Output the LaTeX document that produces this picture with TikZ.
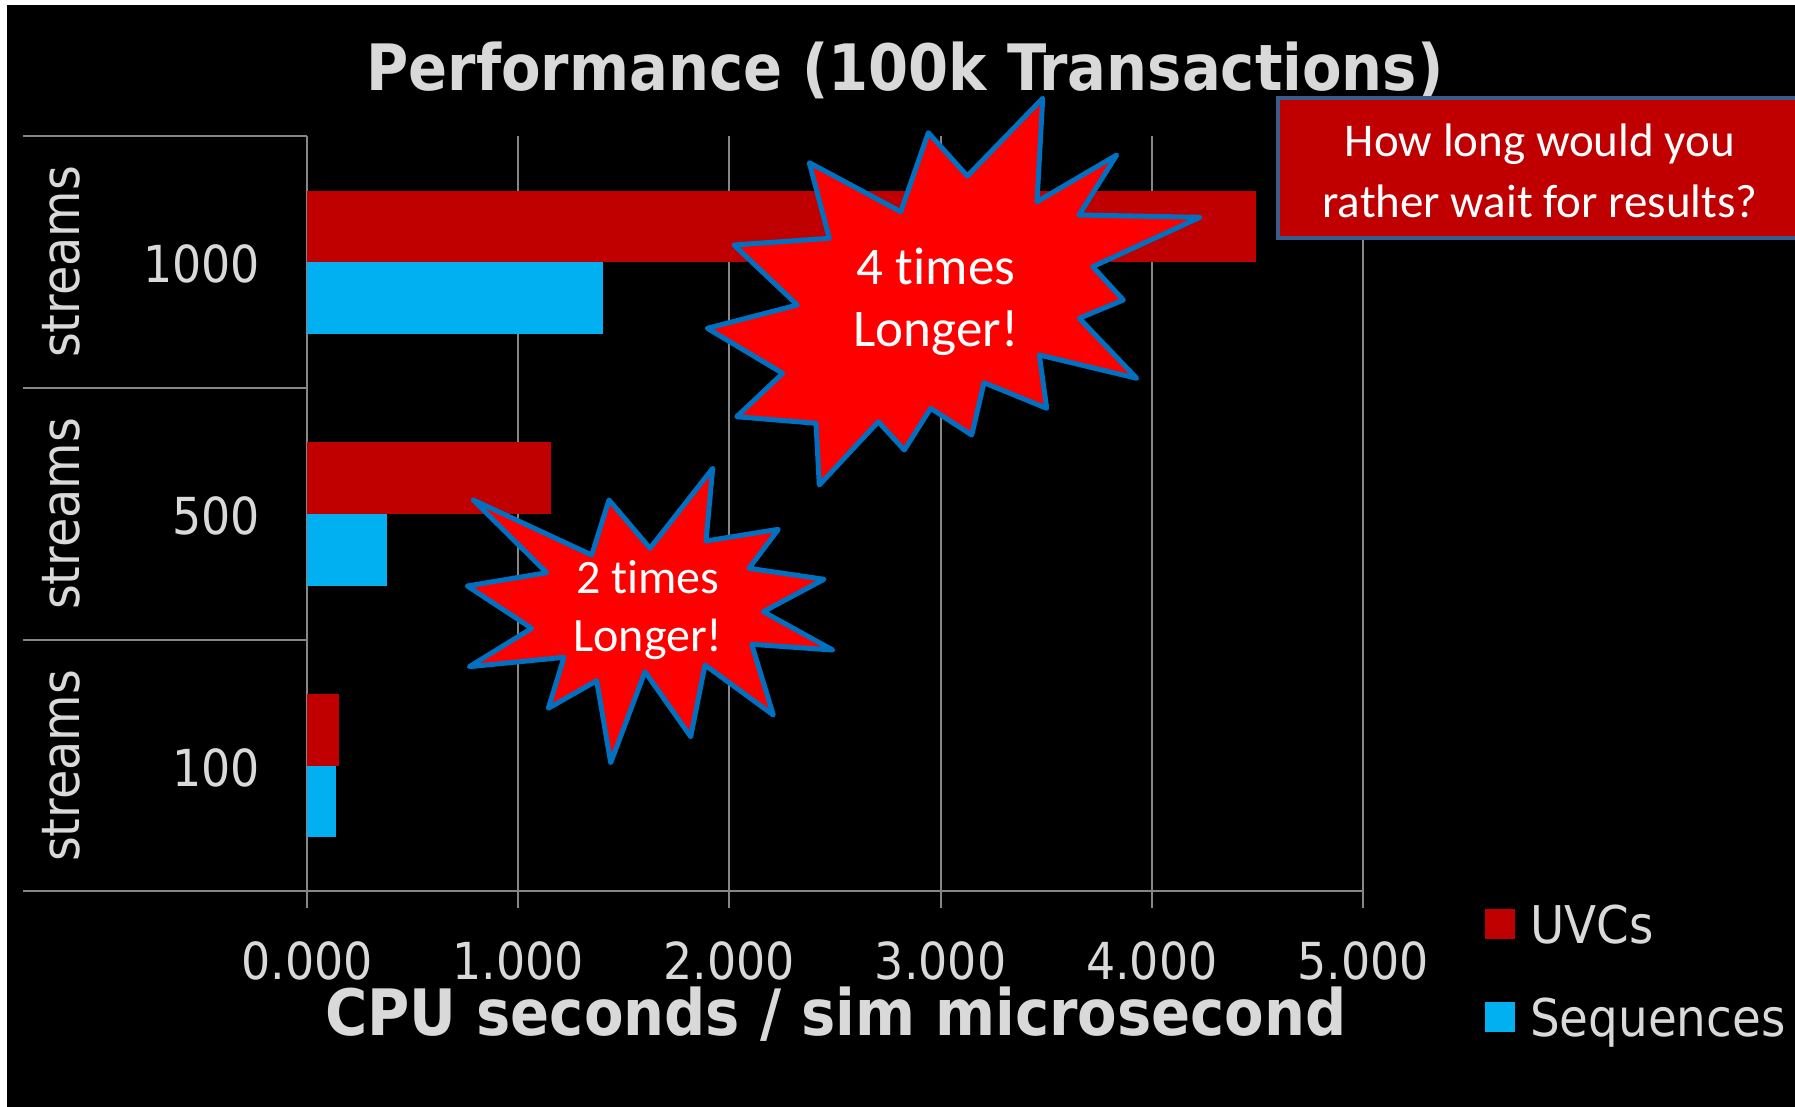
\documentclass[tikz,border=0pt]{standalone}
\usepackage{fontspec}
\newfontfamily\tahfont{DejaVu Sans Condensed}
\newfontfamily\tahbfont{DejaVu Sans Condensed Bold}
\newfontfamily\calfont{Carlito}[Ligatures={NoCommon}]
\definecolor{barred}{RGB}{192,0,0}
\definecolor{barblue}{RGB}{0,176,240}
\definecolor{txtgray}{RGB}{217,217,217}
\definecolor{gridgray}{RGB}{134,134,134}
\definecolor{starred}{RGB}{255,0,0}
\definecolor{starline}{RGB}{0,112,192}
\definecolor{boxline}{RGB}{56,93,138}
\tikzset{
  gridline/.style={draw=gridgray, line width=2pt},
  catlabel/.style={text=txtgray, inner sep=0pt, font=\tahfont\fontsize{51}{60}\selectfont},
  ticklabel/.style={text=txtgray, inner sep=0pt, anchor=base, font=\tahfont\fontsize{51}{60}\selectfont},
  streamlabel/.style={text=txtgray, inner sep=0pt, rotate=90, anchor=base, font=\tahfont\fontsize{53}{60}\selectfont},
  bigtitle/.style={text=txtgray, inner sep=0pt, anchor=base, font=\tahbfont\fontsize{64}{72}\selectfont},
  legendtext/.style={text=txtgray, inner sep=0pt, anchor=base west, font=\tahfont\fontsize{52}{60}\selectfont},
  burst/.style={fill=starred, draw=starline, line width=5pt, line join=round},
  bursttext/.style={text=white, inner sep=0pt, anchor=base},
  calloutbox/.style={fill=barred, draw=boxline, line width=4pt, inner sep=0pt},
  callouttext/.style={text=white, inner sep=0pt, anchor=base, font=\calfont\fontsize{47}{60}\selectfont},
}
\begin{document}
\begin{tikzpicture}[x=1pt,y=-1pt]
\useasboundingbox (0,0) rectangle (1795,1107);
\fill[white] (0,0) rectangle (1795,1107);
\fill[black] (7,5) rectangle (1795,1107);

% grid lines
\foreach \v in {0,...,5} {
  \draw[gridline] (307+211.2*\v,136) -- (307+211.2*\v,908);
}
\draw[gridline] (23,136) -- (307,136);
\draw[gridline] (23,388) -- (307,388);
\draw[gridline] (23,640) -- (307,640);
\draw[gridline] (23,891) -- (1363,891);

% bars
\fill[barred]  (307,191) rectangle (1256,262);
\fill[barblue] (307,262) rectangle (603,334);
\fill[barred]  (307,442) rectangle (551,514);
\fill[barblue] (307,514) rectangle (387,586);
\fill[barred]  (307,694) rectangle (339,766);
\fill[barblue] (307,766) rectangle (336,837);

% title
\node[bigtitle] (title) at (905,91) {Performance (100k Transactions)};

% category labels
\node[catlabel, anchor=base east] (c1000) at (260,282) {1000};
\node[catlabel, anchor=base east] (c500) at (260,534) {500};
\node[catlabel, anchor=base east] (c100) at (260,786) {100};
\node[streamlabel] (s1000) at (79,262) {streams};
\node[streamlabel] (s500) at (79,514) {streams};
\node[streamlabel] (s100) at (79,766) {streams};

% tick labels
\node[ticklabel] (t0) at (307,979) {0.000};
\node[ticklabel] (t1) at (518.2,979) {1.000};
\node[ticklabel] (t2) at (729.4,979) {2.000};
\node[ticklabel] (t3) at (940.6,979) {3.000};
\node[ticklabel] (t4) at (1151.8,979) {4.000};
\node[ticklabel] (t5) at (1363,979) {5.000};
\node[bigtitle] (xtitle) at (836,1035) {CPU seconds / sim microsecond};

% legend
\fill[barred]  (1485,909) rectangle (1515,939);
\fill[barblue] (1485,1002) rectangle (1515,1032);
\node[legendtext] (luvc) at (1530,943) {UVCs};
\node[legendtext] (lseq) at (1530,1036) {Sequences};

% callout box
\node[calloutbox, minimum width=527pt, minimum height=140pt] (ask) at (1541.5,168) {};
\node[callouttext] (ask1) at (1540,157) {How long would you};
\node[callouttext] (ask2) at (1540,218) {rather wait for results?};

% 4 times burst
\filldraw[burst] (1042.7,98.3) -- (1037,201.7) -- (1116.7,155) -- (1079,215) -- (1200,217.3)
  -- (1092.7,266.7) -- (1123.3,300) -- (1079.3,318.3) -- (1136.7,378.3) -- (1039.3,355)
  -- (1046.7,408.3) -- (984,382.7) -- (971.7,435) -- (930.7,408.3) -- (904.3,450)
  -- (878.3,421.7) -- (819.3,485) -- (816,423.3) -- (736.7,416.7) -- (782.7,373.3)
  -- (707.3,328.3) -- (797.3,305) -- (734,245) -- (829.3,238.3) -- (809.3,162.7)
  -- (900.7,211.7) -- (928.3,132.7) -- (967.3,176) -- cycle;
\node[bursttext, font=\calfont\fontsize{53}{62}\selectfont] (b4a) at (936,284) {4 times};
\node[bursttext, font=\calfont\fontsize{53}{62}\selectfont] (b4b) at (936,346) {Longer!};

% 2 times burst
\filldraw[burst] (473.3,500) -- (591.7,555) -- (609,500) -- (650,548.3) -- (712.7,468.3)
  -- (706,541) -- (778.3,529.3) -- (749,568.3) -- (824,579.3) -- (763.3,611.7)
  -- (832.7,650) -- (751.7,644.3) -- (773.3,715) -- (705,665) -- (690.7,736.7)
  -- (645,671.7) -- (610.7,762.7) -- (596.7,680.7) -- (548.3,708.3) -- (564,657.3)
  -- (469.3,666.7) -- (531.7,628.3) -- (467.3,586) -- (546.7,572.7) -- cycle;
\node[bursttext, font=\calfont\fontsize{48}{58}\selectfont] (b2a) at (648,593) {2 times};
\node[bursttext, font=\calfont\fontsize{48}{58}\selectfont] (b2b) at (648,651) {Longer!};
\end{tikzpicture}
\end{document}
